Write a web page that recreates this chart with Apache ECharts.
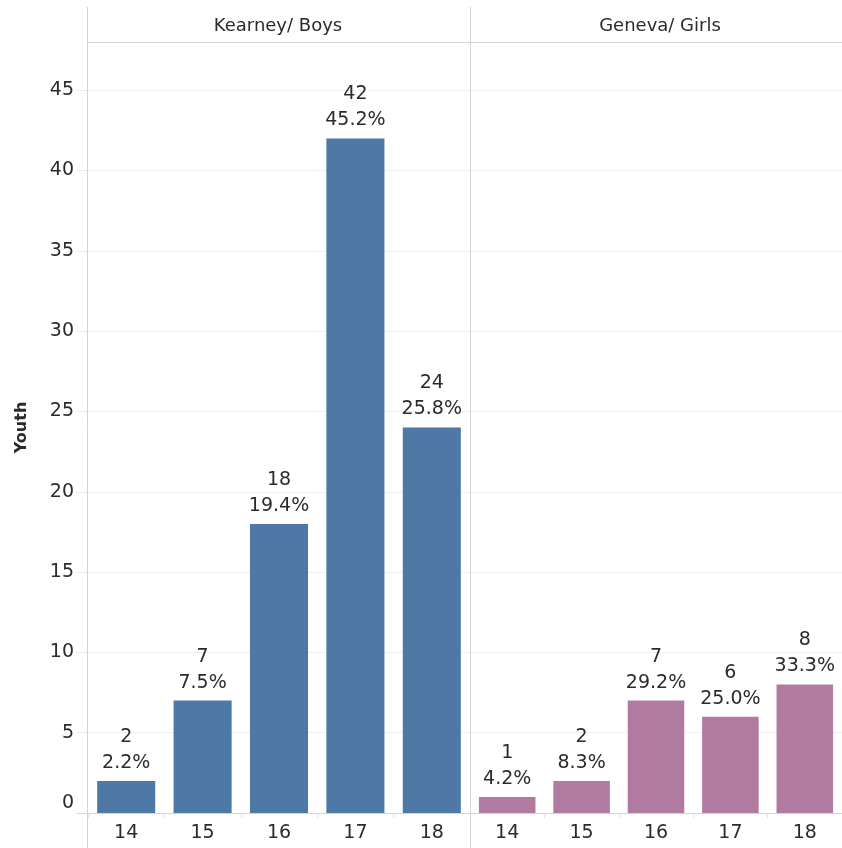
<!DOCTYPE html>
<html>
<head>
<meta charset="utf-8">
<script src="https://cdn.jsdelivr.net/npm/echarts@6/dist/echarts.min.js"></script>
<style>
  html, body { margin: 0; padding: 0; background: #fff; }
  #chart { width: 842px; height: 848px; }
</style>
</head>
<body>
<div id="chart"></div>
<script>
// Youth counts by age, split by facility
const ages = ['14', '15', '16', '17', '18'];
const panelTitles = ['Kearney/ Boys', 'Geneva/ Girls'];
const boysCounts = [2, 7, 18, 42, 24];
const girlsCounts = [1, 2, 7, 6, 8];
const yTicks = [0, 5, 10, 15, 20, 25, 30, 35, 40, 45];

const FONT = '"DejaVu Sans", "Noto Sans", sans-serif';
const TXT = '#2b2b2b';
const LINE = '#d4d4d4';

function pctLabels(values) {
  const total = values.reduce((a, b) => a + b, 0);
  return values.map(v => (v / total * 100).toFixed(1) + '%');
}
const boysPct = pctLabels(boysCounts);
const girlsPct = pctLabels(girlsCounts);

const chart = echarts.init(document.getElementById('chart'), null, { renderer: 'canvas' });

const grids = [
  { left: 88, right: 372, top: 42, bottom: 35 },
  { left: 470, right: 0, top: 42, bottom: 35 }
];

function xAxis(i) {
  return {
    type: 'category', gridIndex: i, data: ages,
    axisLine: { show: true, lineStyle: { color: LINE, width: 1 } },
    axisTick: { show: true, length: 5, lineStyle: { color: '#e4e4e4' } },
    axisLabel: { color: TXT, fontSize: 19, fontFamily: FONT, margin: 11 },
    splitLine: { show: false }
  };
}

function yAxis(i) {
  return {
    type: 'value', gridIndex: i, min: 0, max: 48, interval: 5,
    name: i === 0 ? 'Youth' : '',
    nameLocation: 'middle', nameRotate: 90, nameGap: 58,
    nameTextStyle: { color: TXT, fontSize: 16, fontWeight: 'bold', fontFamily: FONT },
    axisLine: { show: false },
    axisTick: { show: i === 0, length: 12, lineStyle: { color: '#ececec' } },
    axisLabel: {
      show: i === 0, color: TXT, fontSize: 19, fontFamily: FONT, margin: 14,
      showMaxLabel: false,
      verticalAlignMinLabel: 'bottom',
      formatter: v => (yTicks.indexOf(v) >= 0 ? String(v) : '')
    },
    splitLine: { show: true, lineStyle: { color: '#efefef', width: 1 } }
  };
}

function barSeries(i, values, pcts, color) {
  return {
    type: 'bar', xAxisIndex: i, yAxisIndex: i,
    data: values,
    barCategoryGap: '24%',
    itemStyle: { color: color },
    label: {
      show: true, position: 'top', distance: 5,
      color: TXT, fontSize: 19, fontFamily: FONT, lineHeight: 26,
      formatter: p => p.value + '\n' + pcts[p.dataIndex]
    }
  };
}

chart.setOption({
  animation: false,
  backgroundColor: '#ffffff',
  grid: grids,
  xAxis: [xAxis(0), xAxis(1)],
  yAxis: [yAxis(0), yAxis(1)],
  series: [
    barSeries(0, boysCounts, boysPct, '#4e79a7'),
    barSeries(1, girlsCounts, girlsPct, '#b07aa1')
  ],
  graphic: [
    { type: 'line', shape: { x1: 87.5, y1: 7, x2: 87.5, y2: 848 }, style: { stroke: LINE, lineWidth: 1 }, z: 10 },
    { type: 'line', shape: { x1: 470.5, y1: 7, x2: 470.5, y2: 848 }, style: { stroke: LINE, lineWidth: 1 }, z: 10 },
    { type: 'line', shape: { x1: 87, y1: 42.5, x2: 842, y2: 42.5 }, style: { stroke: LINE, lineWidth: 1 }, z: 10 },
    { type: 'line', shape: { x1: 77, y1: 813.5, x2: 88, y2: 813.5 }, style: { stroke: LINE, lineWidth: 1 }, z: 10 },
    { type: 'text', x: 278, y: 26, style: { text: panelTitles[0], fill: TXT, font: '18px ' + FONT, textAlign: 'center', textVerticalAlign: 'middle' } },
    { type: 'text', x: 660, y: 26, style: { text: panelTitles[1], fill: TXT, font: '18px ' + FONT, textAlign: 'center', textVerticalAlign: 'middle' } }
  ]
});
</script>
</body>
</html>
